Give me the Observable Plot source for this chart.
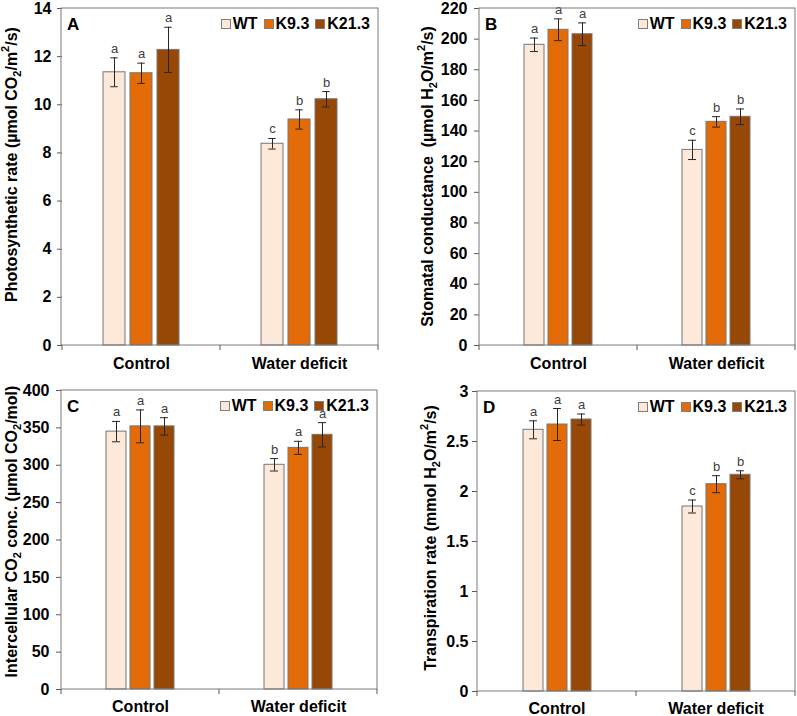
<!DOCTYPE html>
<html><head><meta charset="utf-8">
<script src="https://cdn.jsdelivr.net/npm/d3@7"></script>
<script src="https://cdn.jsdelivr.net/npm/@observablehq/plot@0.6"></script>
<style>
body{margin:0;background:#fff;font-family:Arial,"Liberation Sans",sans-serif;}
#wrap{position:relative;width:797px;height:716px;overflow:hidden;background:#fff;}
.panel{position:absolute;}
.panel svg{background:transparent;}
.legend{position:absolute;display:flex;align-items:center;font:bold 16px Arial,"Liberation Sans",sans-serif;color:#000;white-space:nowrap;line-height:18px;}
.legend .sw{width:8px;height:8px;border:1px solid #7f7f7f;margin-right:2px;}
.legend .item{display:flex;align-items:center;margin-left:6px;}
.plabel{position:absolute;font:bold 17px Arial,"Liberation Sans",sans-serif;color:#000;line-height:17px;}
</style></head><body><div id="wrap"></div>
<script>
const conditions = ["Control", "Water deficit"];
const genotypes = ["WT", "K9.3", "K21.3"];
const colors = ["#FDE9D9", "#E36C09", "#974806"];

// Panel A: photosynthetic rate
const photoMean = [11.35, 11.31, 12.28, 8.38, 9.39, 10.23];
const photoSE = [0.60, 0.42, 0.94, 0.22, 0.40, 0.32];
const photoLetters = ["a", "a", "a", "c", "b", "b"];
const photoTicks = [0, 2, 4, 6, 8, 10, 12, 14];

// Panel B: stomatal conductance
const stomMean = [196.3, 206.1, 203.2, 127.7, 146.0, 149.3];
const stomSE = [4.4, 7.1, 7.4, 6.3, 3.4, 5.1];
const stomLetters = ["a", "a", "a", "c", "b", "b"];
const stomTicks = [0, 20, 40, 60, 80, 100, 120, 140, 160, 180, 200, 220];

// Panel C: intercellular CO2 concentration
const interMean = [345.0, 352.0, 352.0, 300.6, 323.3, 340.7];
const interSE = [13.6, 22.0, 11.6, 8.3, 8.7, 16.3];
const interLetters = ["a", "a", "a", "b", "a", "a"];
const interTicks = [0, 50, 100, 150, 200, 250, 300, 350, 400];

// Panel D: transpiration rate
const transMean = [2.617, 2.670, 2.720, 1.850, 2.073, 2.167];
const transSE = [0.090, 0.160, 0.055, 0.065, 0.085, 0.040];
const transLetters = ["a", "a", "a", "c", "b", "b"];
const transTicks = [0, 0.5, 1, 1.5, 2, 2.5, 3];

const FONT = "Arial, 'Liberation Sans', sans-serif";

const panels = [
  {id: "A", mean: photoMean, se: photoSE, letters: photoLetters, ticks: photoTicks,
   title: [["Photosynthetic rate (\u00b5mol CO"], ["2", "sub"], ["/m"], ["2", "super"], ["/s)"]],
   left: 0, top: 0, W: 400, H: 375, mL: 61, mR: 22, mT: 8, mB: 30, pi: 0.18, po: 1.47, tp: 6, fxp: 12, titleX: 11, titleShift: -12},
  {id: "B", mean: stomMean, se: stomSE, letters: stomLetters, ticks: stomTicks,
   title: [["Stomatal conductance  (\u00b5mol H"], ["2", "sub"], ["O/m"], ["2", "super"], ["/s)"]],
   left: 400, top: 0, W: 397, H: 375, mL: 79, mR: 2, mT: 8, mB: 30, pi: 0.18, po: 1.83, tp: 7, fxp: 12, titleX: 27, titleShift: 0},
  {id: "C", mean: interMean, se: interSE, letters: interLetters, ticks: interTicks,
   title: [["Intercellular CO"], ["2", "sub"], [" conc. (\u00b5mol CO"], ["2", "sub"], ["/mol)"]],
   left: 0, top: 370, W: 400, H: 346, mL: 61, mR: 23, mT: 20, mB: 27, pi: 0.17, po: 1.87, tp: 7, fxp: 11, titleX: 11, titleShift: -8},
  {id: "D", mean: transMean, se: transSE, letters: transLetters, ticks: transTicks,
   title: [["Transpiration rate (mmol H"], ["2", "sub"], ["O/m"], ["2", "super"], ["/s)"]],
   left: 400, top: 370, W: 397, H: 346, mL: 77, mR: 2, mT: 21, mB: 25, pi: 0.18, po: 1.83, tp: 4, fxp: 11, titleX: 30, titleShift: -3}
];

const wrap = document.getElementById("wrap");

for (const p of panels) {
  const rows = p.mean.map((m, i) => ({
    cond: conditions[Math.floor(i / 3)],
    geno: genotypes[i % 3],
    mean: m,
    lo: m - p.se[i],
    hi: m + p.se[i],
    letter: p.letters[i]
  }));
  const ymax = p.ticks[p.ticks.length - 1];
  const facetW = (p.W - p.mL - p.mR) / conditions.length;
  const step = facetW / (genotypes.length - p.pi + 2 * p.po);
  const bw = step * (1 - p.pi);
  const capInset = Math.max(0, (bw - 8) / 2);

  const chart = Plot.plot({
    width: p.W, height: p.H,
    marginLeft: p.mL, marginRight: p.mR, marginTop: p.mT, marginBottom: p.mB,
    style: {fontFamily: FONT, fontSize: "16px", fontWeight: "bold", color: "#000", background: "transparent", overflow: "visible"},
    fx: {domain: conditions, padding: 0, label: null, axis: "bottom", tickSize: 0, tickPadding: p.fxp},
    x: {domain: genotypes, axis: null, paddingInner: p.pi, paddingOuter: p.po},
    y: {domain: [0, ymax], ticks: p.ticks, tickSize: 5, tickPadding: p.tp, label: null, tickFormat: d => String(d)},
    color: {domain: genotypes, range: colors},
    marks: [
      Plot.barY(rows, {fx: "cond", x: "geno", y: "mean", fill: "geno", stroke: "#767676", strokeWidth: 1}),
      Plot.ruleX(rows, {fx: "cond", x: "geno", y1: "lo", y2: "hi", stroke: "#262626", strokeWidth: 1}),
      Plot.tickY(rows, {fx: "cond", x: "geno", y: "lo", stroke: "#262626", strokeWidth: 1, insetLeft: capInset, insetRight: capInset}),
      Plot.tickY(rows, {fx: "cond", x: "geno", y: "hi", stroke: "#262626", strokeWidth: 1, insetLeft: capInset, insetRight: capInset}),
      Plot.text(rows, {fx: "cond", x: "geno", y: "hi", text: "letter", dy: -5, lineAnchor: "bottom", fontSize: 13, fontWeight: "normal", fill: "#404040"})
    ]
  });

  const svg = d3.select(chart);
  svg.selectAll("[aria-label='y-axis tick'] path, [aria-label='y-axis tick'] line").attr("stroke", "#595959");
  // frame box
  svg.append("rect")
    .attr("x", p.mL).attr("y", p.mT)
    .attr("width", p.W - p.mL - p.mR).attr("height", p.H - p.mT - p.mB)
    .attr("fill", "none").attr("stroke", "#7a7a7a").attr("stroke-width", 1);
  // category boundary ticks on x axis
  let bounds;
  try {
    const fx = chart.scale("fx");
    bounds = conditions.map(c => fx.apply(c)).concat([p.W - p.mR]);
  } catch (e) {
    bounds = [p.mL, (p.mL + p.W - p.mR) / 2, p.W - p.mR];
  }
  const yb = p.H - p.mB;
  svg.append("g").selectAll("line").data(bounds).join("line")
    .attr("x1", d => d).attr("x2", d => d)
    .attr("y1", yb).attr("y2", yb + 5)
    .attr("stroke", "#595959").attr("stroke-width", 1);
  // y axis title with sub/superscripts
  const cy = (p.mT + p.H - p.mB) / 2 + p.titleShift;
  const t = svg.append("text")
    .attr("transform", `translate(${p.titleX},${cy}) rotate(-90)`)
    .attr("text-anchor", "middle")
    .attr("dominant-baseline", "central")
    .attr("font-family", FONT).attr("font-weight", "bold").attr("font-size", 16)
    .attr("fill", "#000");
  for (const [s, kind] of p.title) {
    const ts = t.append("tspan").text(s);
    if (kind) ts.attr("baseline-shift", kind).attr("font-size", 11);
  }

  const div = document.createElement("div");
  div.className = "panel";
  div.style.left = p.left + "px";
  div.style.top = p.top + "px";
  div.style.width = p.W + "px";
  div.style.height = p.H + "px";
  div.appendChild(chart);

  const pl = document.createElement("div");
  pl.className = "plabel";
  pl.textContent = p.id;
  pl.style.left = (p.mL + 6) + "px";
  pl.style.top = (p.mT + 8) + "px";
  div.appendChild(pl);

  const lg = document.createElement("div");
  lg.className = "legend";
  lg.style.right = (p.mR + 8) + "px";
  lg.style.top = (p.mT + 7) + "px";
  genotypes.forEach((g, i) => {
    const it = document.createElement("div");
    it.className = "item";
    const sw = document.createElement("div");
    sw.className = "sw";
    sw.style.background = colors[i];
    const tx = document.createElement("span");
    tx.textContent = g;
    it.appendChild(sw); it.appendChild(tx);
    lg.appendChild(it);
  });
  div.appendChild(lg);

  wrap.appendChild(div);
}
</script>
</body></html>
